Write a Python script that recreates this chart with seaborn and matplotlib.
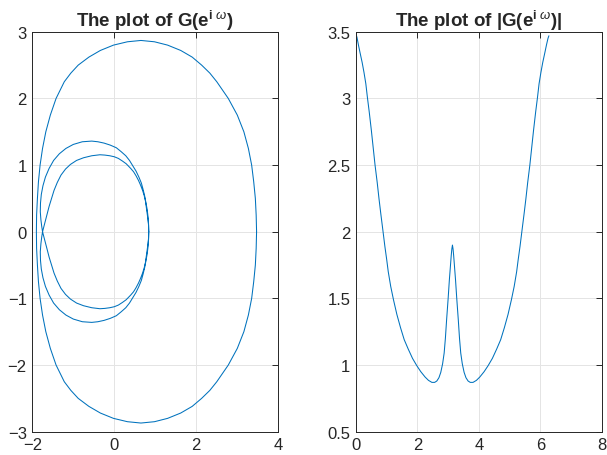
import numpy as np
import pandas as pd
import matplotlib
matplotlib.use("Agg")
import matplotlib.pyplot as plt
import seaborn as sns

# Nyquist plot of G(e^{i w})
# outer loop (upper arc right->left, then lower arc left->right)
big_re = [3.47, 3.46, 3.44, 3.40, 3.35, 3.27, 3.16, 3.00, 2.78, 2.50, 2.33, 2.13, 1.90, 1.62,
          1.30, 0.98, 0.65, 0.32, -0.02, -0.34, -0.62, -0.88, -1.06, -1.22, -1.42, -1.56,
          -1.67, -1.75, -1.81, -1.85, -1.875, -1.895, -1.90,
          -1.895, -1.875, -1.85, -1.81, -1.75, -1.67, -1.56, -1.42, -1.22, -1.06, -0.88,
          -0.62, -0.34, -0.02, 0.32, 0.65, 0.98, 1.30, 1.62, 1.90, 2.13, 2.33, 2.50, 2.78,
          3.00, 3.16, 3.27, 3.35, 3.40, 3.44, 3.46, 3.47]
big_im = [0.00, 0.25, 0.50, 0.75, 1.00, 1.25, 1.50, 1.75, 2.00, 2.25, 2.38, 2.50, 2.62, 2.72,
          2.80, 2.85, 2.87, 2.85, 2.80, 2.72, 2.62, 2.50, 2.38, 2.25, 2.00, 1.75,
          1.50, 1.25, 1.00, 0.75, 0.50, 0.25, 0.00,
          -0.25, -0.50, -0.75, -1.00, -1.25, -1.50, -1.75, -2.00, -2.25, -2.38, -2.50,
          -2.62, -2.72, -2.80, -2.85, -2.87, -2.85, -2.80, -2.72, -2.62, -2.50, -2.38, -2.25, -2.00,
          -1.75, -1.50, -1.25, -1.00, -0.75, -0.50, -0.25, 0.00]

# inner double loop (small loop top, big loop bottom, big loop top, small loop bottom)
inner_re = [0.84, 0.835, 0.82, 0.80, 0.78, 0.76, 0.73, 0.69, 0.64, 0.59, 0.53, 0.47, 0.40, 0.29,
            0.20, 0.10, 0.00, -0.11, -0.23, -0.35, -0.55, -0.75, -0.92, -1.07, -1.19, -1.30,
            -1.39, -1.47, -1.53, -1.59, -1.64, -1.69, -1.72, -1.75,
            -1.77, -1.79, -1.805, -1.80, -1.78, -1.74, -1.68, -1.59, -1.48, -1.34, -1.18, -1.00,
            -0.78, -0.55, -0.40, -0.25, -0.10, 0.05, 0.17, 0.28, 0.37, 0.45, 0.53, 0.60, 0.66,
            0.70, 0.74, 0.77, 0.80, 0.82, 0.835, 0.84,
            0.835, 0.82, 0.80, 0.77, 0.74, 0.70, 0.66, 0.60, 0.53, 0.45, 0.37, 0.28, 0.17, 0.05,
            -0.10, -0.25, -0.40, -0.55, -0.78, -1.00, -1.18, -1.34, -1.48, -1.59, -1.68, -1.74,
            -1.78, -1.80, -1.805, -1.79, -1.77, -1.75,
            -1.72, -1.69, -1.64, -1.59, -1.53, -1.47, -1.39, -1.30, -1.19, -1.07, -0.92, -0.75,
            -0.55, -0.35, -0.23, -0.11, 0.00, 0.10, 0.20, 0.29, 0.40, 0.47, 0.53, 0.59, 0.64,
            0.69, 0.73, 0.76, 0.78, 0.80, 0.82, 0.835, 0.84]
inner_im = [0.00, 0.10, 0.19, 0.28, 0.37, 0.46, 0.54, 0.62, 0.70, 0.77, 0.84, 0.90, 0.95, 1.02,
            1.06, 1.10, 1.125, 1.14, 1.15, 1.155, 1.14, 1.11, 1.07, 1.01, 0.94, 0.85,
            0.74, 0.62, 0.50, 0.38, 0.26, 0.14, 0.07, 0.00,
            -0.08, -0.18, -0.30, -0.43, -0.56, -0.69, -0.82, -0.95, -1.07, -1.17, -1.25, -1.31,
            -1.35, -1.36, -1.35, -1.33, -1.30, -1.26, -1.20, -1.14, -1.07, -0.99, -0.91, -0.82, -0.73,
            -0.64, -0.54, -0.44, -0.34, -0.24, -0.12, 0.00,
            0.12, 0.24, 0.34, 0.44, 0.54, 0.64, 0.73, 0.82, 0.91, 0.99, 1.07, 1.14, 1.20, 1.26,
            1.30, 1.33, 1.35, 1.36, 1.35, 1.31, 1.25, 1.17, 1.07, 0.95, 0.82, 0.69,
            0.56, 0.43, 0.30, 0.18, 0.08, 0.00,
            -0.07, -0.14, -0.26, -0.38, -0.50, -0.62, -0.74, -0.85, -0.94, -1.01, -1.07, -1.11,
            -1.14, -1.155, -1.15, -1.14, -1.125, -1.10, -1.06, -1.02, -0.95, -0.90, -0.84, -0.77, -0.70,
            -0.62, -0.54, -0.46, -0.37, -0.28, -0.19, -0.10, 0.00]

# magnitude |G(e^{i w})|
w_vals = [0.00, 0.03, 0.08, 0.13, 0.20, 0.26, 0.32, 0.37, 0.43, 0.50, 0.56, 0.62, 0.69, 0.75,
          0.81, 0.87, 0.94, 1.00, 1.05, 1.13, 1.22, 1.33, 1.45, 1.57, 1.70, 1.84, 1.98, 2.11,
          2.25, 2.36, 2.47, 2.56, 2.63, 2.70, 2.76, 2.82, 2.87, 2.91, 2.95, 3.00, 3.04, 3.08,
          3.10, 3.12, 3.14,
          3.16, 3.18, 3.20, 3.24, 3.28, 3.33, 3.37, 3.41, 3.46, 3.52, 3.58, 3.65, 3.72, 3.81,
          3.92, 4.03, 4.17, 4.30, 4.44, 4.58, 4.71, 4.83, 4.95, 5.06, 5.15, 5.23, 5.28, 5.34,
          5.41, 5.47, 5.53, 5.59, 5.66, 5.72, 5.78, 5.85, 5.91, 5.96, 6.02, 6.08, 6.15, 6.20,
          6.25, 6.28]
mag_vals = [3.48, 3.46, 3.40, 3.345, 3.27, 3.195, 3.11, 3.01, 2.90, 2.76, 2.63, 2.50, 2.37, 2.245,
            2.13, 2.02, 1.89, 1.79, 1.70, 1.59, 1.49, 1.38, 1.28, 1.19, 1.12, 1.05, 0.995, 0.95,
            0.91, 0.885, 0.87, 0.87, 0.88, 0.905, 0.945, 1.01, 1.09, 1.20, 1.34, 1.50, 1.64, 1.76,
            1.82, 1.87, 1.90,
            1.87, 1.82, 1.76, 1.64, 1.50, 1.34, 1.20, 1.09, 1.01, 0.945, 0.905, 0.88, 0.87, 0.87,
            0.885, 0.91, 0.95, 0.995, 1.05, 1.12, 1.19, 1.28, 1.38, 1.49, 1.59, 1.70, 1.79, 1.89,
            2.02, 2.13, 2.245, 2.37, 2.50, 2.63, 2.76, 2.90, 3.01, 3.11, 3.195, 3.27, 3.345, 3.40,
            3.45, 3.47]

sns.set_style("white")
plt.rcParams['font.family'] = ['Liberation Sans', 'DejaVu Sans']
plt.rcParams['mathtext.fontset'] = 'custom'
plt.rcParams['mathtext.rm'] = 'Liberation Sans'
plt.rcParams['mathtext.it'] = 'Liberation Sans:italic'
plt.rcParams['mathtext.bf'] = 'Liberation Sans:bold'

line_col = '#0072BD'
axis_col = '#262626'

fig = plt.figure(figsize=(6.07, 4.56), dpi=100)
ax1 = fig.add_axes([0.0532, 0.0511, 0.4053, 0.877])
ax2 = fig.add_axes([0.5865, 0.0511, 0.4048, 0.877])

sns.lineplot(x=big_re, y=big_im, sort=False, estimator=None, ax=ax1,
             color=line_col, linewidth=0.75)
sns.lineplot(x=inner_re, y=inner_im, sort=False, estimator=None, ax=ax1,
             color=line_col, linewidth=0.75)
sns.lineplot(x=w_vals, y=mag_vals, sort=False, estimator=None, ax=ax2,
             color=line_col, linewidth=0.75)

ax1.set_xlim(-2, 4)
ax1.set_ylim(-3, 3)
ax1.set_xticks([-2, 0, 2, 4])
ax1.set_yticks([-3, -2, -1, 0, 1, 2, 3])
ax1.set_title(r'The plot of G(e$^{\mathbf{i}\ \omega}$)', fontsize=13.5, fontweight='bold', pad=4)

ax2.set_xlim(0, 8)
ax2.set_ylim(0.5, 3.5)
ax2.set_xticks([0, 2, 4, 6, 8])
ax2.set_yticks([0.5, 1, 1.5, 2, 2.5, 3, 3.5])
ax2.set_yticklabels(['0.5', '1', '1.5', '2', '2.5', '3', '3.5'])
ax2.set_title(r'The plot of |G(e$^{\mathbf{i}\ \omega}$)|', fontsize=13.5, fontweight='bold', pad=4)

for ax in (ax1, ax2):
    ax.grid(True, color='#e4e4e4', linewidth=0.7)
    ax.set_axisbelow(True)
    ax.tick_params(direction='in', top=True, right=True, length=4, width=0.7,
                   colors=axis_col, labelsize=12, pad=4)
    for s in ax.spines.values():
        s.set_color(axis_col)
        s.set_linewidth(0.7)
    ax.set_xlabel('')
    ax.set_ylabel('')

fig.savefig('out.png', dpi=100)
